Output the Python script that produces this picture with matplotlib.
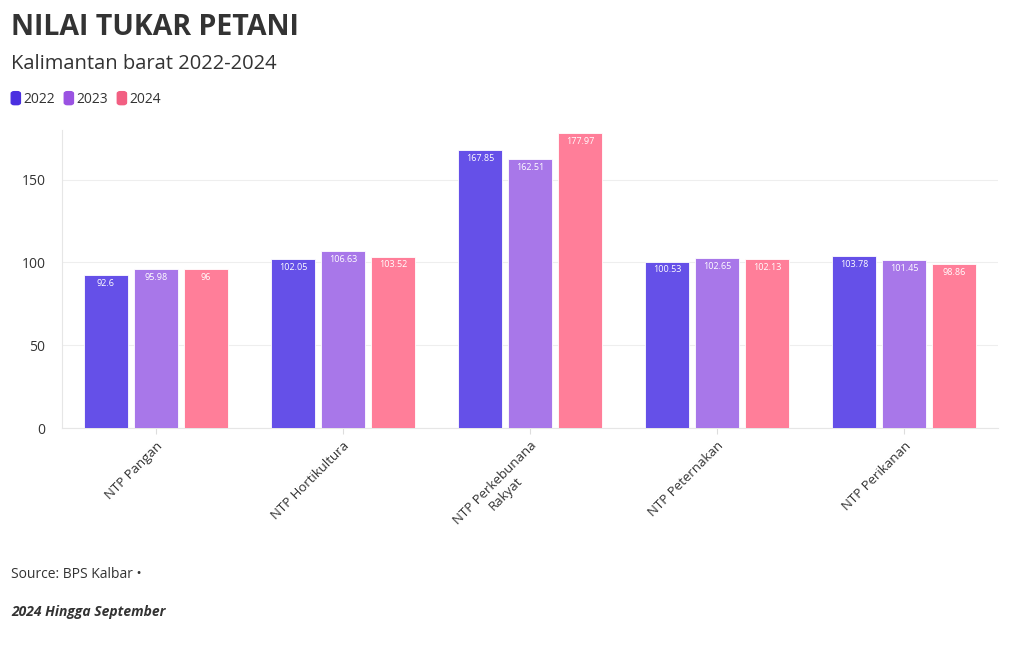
import matplotlib
matplotlib.use("Agg")
import matplotlib.pyplot as plt
import numpy as np

categories = ["NTP Pangan", "NTP Hortikultura", "NTP Perkebunana\nRakyat", "NTP Peternakan", "NTP Perikanan"]
years = ["2022", "2023", "2024"]
v2022 = [92.6, 102.05, 167.85, 100.53, 103.78]
v2023 = [95.98, 106.63, 162.51, 102.65, 101.45]
v2024 = [96, 103.52, 177.97, 102.13, 98.86]
labels2022 = ["92.6", "102.05", "167.85", "100.53", "103.78"]
labels2023 = ["95.98", "106.63", "162.51", "102.65", "101.45"]
labels2024 = ["96", "103.52", "177.97", "102.13", "98.86"]

bar_colors = ["#6550e8", "#a877e9", "#ff7e99"]
legend_colors = ["#4a2fe0", "#9a52e2", "#f25f82"]

plt.rcParams['font.family'] = ['Open Sans', 'DejaVu Sans']

fig = plt.figure(figsize=(10.2, 6.5), dpi=100)
ax = fig.add_axes([0.061, 0.3415, 0.917, 0.4585])

x = np.arange(len(categories))
w = 0.235
off = 0.267
series = [v2022, v2023, v2024]
labs = [labels2022, labels2023, labels2024]
for i, (vals, lb) in enumerate(zip(series, labs)):
    xs = x + (i - 1) * off
    ax.bar(xs, vals, width=w, color=bar_colors[i], edgecolor="#ffffff", linewidth=0.6, zorder=3)
    for xx, v, t in zip(xs, vals, lb):
        ax.text(xx, v - 2.3, t, ha="center", va="top", fontsize=6.5, color="white", zorder=4)

ax.set_xlim(-0.5, 4.5)
ax.set_ylim(0, 180)
ax.set_yticks([0, 50, 100, 150])
ax.set_yticklabels(["0", "50", "100", "150"], fontsize=10, color="#333333")
ax.set_xticks(x)
ax.set_xticklabels(categories, rotation=45, ha="right", rotation_mode="anchor", fontsize=9.5, color="#333333", multialignment="center")
ax.tick_params(axis="y", length=0, pad=12)
ax.tick_params(axis="x", length=4, color="#dddddd", pad=4)
ax.grid(axis="y", color="#eeeeee", linewidth=0.8, zorder=0)
for s in ["top", "right"]:
    ax.spines[s].set_visible(False)
for s in ["left", "bottom"]:
    ax.spines[s].set_color("#e6e6e6")
    ax.spines[s].set_linewidth(0.8)

fig.text(0.011, 0.957, "NILAI TUKAR PETANI", fontsize=20.5, fontweight="bold", color="#333333", va="center")
fig.text(0.011, 0.902, "Kalimantan barat 2022-2024", fontsize=14.5, color="#333333", va="center")

# legend
lx = 0.011
for i, yr in enumerate(years):
    fig.patches.append(matplotlib.patches.FancyBboxPatch((lx, 0.839), 0.009, 0.02, boxstyle="round,pad=0,rounding_size=0.003",
                                                        transform=fig.transFigure, color=legend_colors[i], figure=fig))
    fig.text(lx + 0.012, 0.847, yr, fontsize=10, color="#333333", va="center")
    lx += 0.052

fig.text(0.011, 0.116, "Source: BPS Kalbar \u2022", fontsize=10, color="#333333", va="center")
fig.text(0.011, 0.058, "2024 Hingga September", fontsize=10, fontweight="bold", fontstyle="italic", color="#333333", va="center")

fig.savefig("out.png", dpi=100)
